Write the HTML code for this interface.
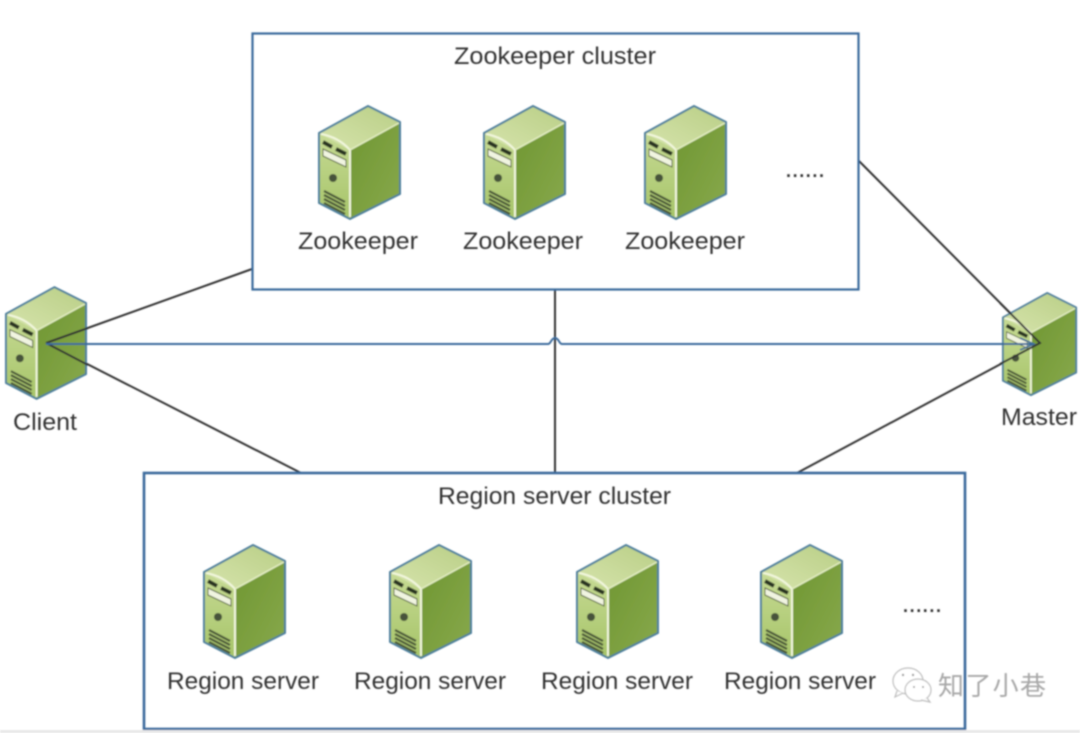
<!DOCTYPE html>
<html><head><meta charset="utf-8"><style>
html,body{margin:0;padding:0;background:#fff;width:1080px;height:733px;overflow:hidden}
svg{display:block}
text{font-family:"Liberation Sans","Noto Sans CJK SC",sans-serif;font-size:24px;fill:#333}
</style></head><body>
<svg width="1080" height="733" viewBox="0 0 1080 733" xmlns="http://www.w3.org/2000/svg">
<defs>
<linearGradient id="top" x1="0" y1="1" x2="1" y2="0"><stop offset="0" stop-color="#d6e4ac"/><stop offset="1" stop-color="#b9ce86"/></linearGradient>
<linearGradient id="front" x1="0" y1="0" x2="0" y2="1"><stop offset="0" stop-color="#c6da94"/><stop offset="1" stop-color="#a6c468"/></linearGradient>
<linearGradient id="side" x1="0" y1="0" x2="1" y2="1"><stop offset="0" stop-color="#6f9632"/><stop offset="1" stop-color="#88a94c"/></linearGradient>
<filter id="b" x="-5%" y="-5%" width="110%" height="110%"><feGaussianBlur stdDeviation="0.75"/></filter>
<symbol id="srv" viewBox="0 0 84 116" width="84" height="116" overflow="visible">
<path d="M1 28 50 1 82 17 32 45Z" fill="url(#top)"/>
<path d="M1 28 32 45V114L1 98Z" fill="url(#front)"/>
<path d="M32 45 82 17V89L32 114Z" fill="url(#side)"/>
<path d="M3 29C14 31 24 36 32 45V112" fill="none" stroke="#f2f7de" stroke-width="2"/>
<path d="M32 45 81 18" stroke="#e4eec4" stroke-width="1.500" fill="none"/>
<path d="M1 28 50 1 82 17V89L32 114 1 98Z" fill="none" stroke="#4d7f9c" stroke-width="2" stroke-linejoin="round"/>
<path d="M5 37 14 42M18 44 28 49" stroke="#2b3420" stroke-width="4"/>
<path d="M5 44 28 55V62L5 51Z" fill="#f0f4e0" stroke="#56643f"/>
<circle cx="15" cy="73" r="4" fill="#46533a"/>
<path d="M6 86 27 97M6 90 27 101M6 94 27 105M6 98 27 109" stroke="#4a5638" stroke-width="2.200"/>
</symbol>
</defs>
<g filter="url(#b)">
<g stroke="#333" stroke-width="2" fill="none">
<path d="M46 343 252 269"/>
<path d="M46 343 301 473"/>
<path d="M555 289V473"/>
<path d="M859 161 1040 343"/>
<path d="M797 473 1040 343"/>
</g>
<use href="#srv" x="318" y="105"/>
<use href="#srv" x="483" y="105"/>
<use href="#srv" x="644" y="105"/>
<use href="#srv" x="203" y="544"/>
<use href="#srv" x="389" y="544"/>
<use href="#srv" x="576" y="544"/>
<use href="#srv" x="760" y="544"/>
<use href="#srv" x="5" y="286" width="83" height="115"/>
<use href="#srv" x="1002" y="292" width="76" height="105"/>
<g stroke="#333" stroke-width="2" fill="none">
<path d="M46 343 88 328"/>
<path d="M46 343 88 365"/>
<path d="M1000 303 1040 343 1000 364"/>
</g>
<path d="M46 344H548C551 344 551 338 555 338S559 344 562 344H1034" fill="none" stroke="#3a6a9c" stroke-width="2"/>
<path d="M1020 338 1034 344 1020 350" fill="none" stroke="#3a6a9c" stroke-width="1.500"/>
<rect x="252.500" y="33.500" width="606" height="256" fill="none" stroke="#3a6a9c" stroke-width="2.200"/>
<rect x="144" y="473" width="821" height="256" fill="none" stroke="#3a6a9c" stroke-width="2.600"/>
<text x="454" y="64" textLength="202" lengthAdjust="spacingAndGlyphs">Zookeeper cluster</text>
<text x="298" y="249" textLength="120" lengthAdjust="spacingAndGlyphs">Zookeeper</text>
<text x="463" y="249" textLength="120" lengthAdjust="spacingAndGlyphs">Zookeeper</text>
<text x="625" y="249" textLength="120" lengthAdjust="spacingAndGlyphs">Zookeeper</text>
<text x="786" y="177" textLength="38" lengthAdjust="spacing" style="font-size:18px;font-weight:bold">......</text>
<text x="13" y="430" textLength="64" lengthAdjust="spacingAndGlyphs">Client</text>
<text x="1001" y="425" textLength="76" lengthAdjust="spacingAndGlyphs">Master</text>
<text x="438" y="504" textLength="233" lengthAdjust="spacingAndGlyphs">Region server cluster</text>
<text x="167" y="689" textLength="152" lengthAdjust="spacingAndGlyphs">Region server</text>
<text x="354" y="689" textLength="152" lengthAdjust="spacingAndGlyphs">Region server</text>
<text x="541" y="689" textLength="152" lengthAdjust="spacingAndGlyphs">Region server</text>
<text x="724" y="689" textLength="152" lengthAdjust="spacingAndGlyphs">Region server</text>
<text x="903" y="612" textLength="38" lengthAdjust="spacing" style="font-size:18px;font-weight:bold">......</text>
<g fill="#fff" stroke="#bcbcbc" stroke-width="1.200">
<ellipse cx="908" cy="681" rx="15" ry="13"/>
<path d="M897 691 895 697 903 693"/>
<ellipse cx="918" cy="690" rx="13" ry="11"/>
<path d="M927 698 930 702 921 700"/>
</g>
<g fill="#999"><circle cx="903" cy="675" r="1.200"/><circle cx="913" cy="675" r="1.200"/><circle cx="914" cy="687" r="1"/><circle cx="923" cy="687" r="1"/></g>
<text x="938" y="695" textLength="108" lengthAdjust="spacing" style="font-size:26px;fill:#a8a8a8">知了小巷</text>
<rect x="0" y="730" width="1080" height="3" fill="#e8e8e8"/>
</g>
</svg>
</body></html>
